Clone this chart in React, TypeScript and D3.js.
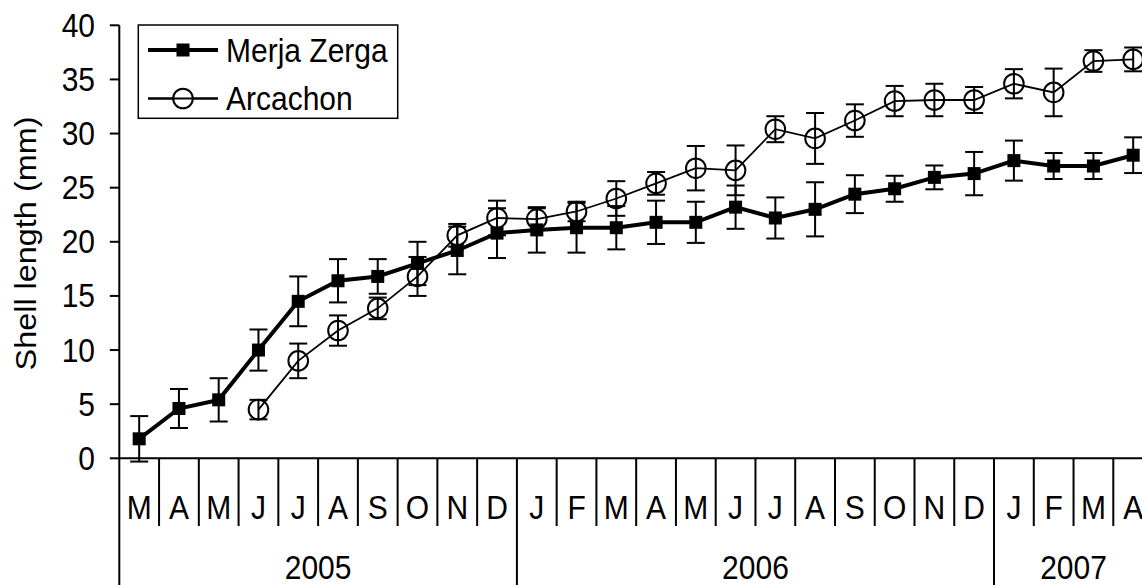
import React from "react";
import * as d3 from "d3";

const months = ["M","A","M","J","J","A","S","O","N","D","J","F","M","A","M","J","J","A","S","O","N","D","J","F","M","A"];
const years = ["2005","2006","2007"];
const yearStarts = [0, 10, 22];
const yearEnds = [10, 22, 26];

const merjaZerga = [1.8, 4.6, 5.4, 10.0, 14.5, 16.4, 16.8, 18.0, 19.2, 20.8, 21.1, 21.3, 21.3, 21.8, 21.8, 23.2, 22.2, 23.0, 24.4, 24.9, 25.95, 26.3, 27.5, 27.0, 27.0, 28.0];
const merjaZergaErr = [2.1, 1.8, 2.0, 1.9, 2.3, 2.0, 1.6, 2.0, 2.2, 2.3, 2.1, 2.3, 2.0, 2.0, 1.9, 2.0, 1.9, 2.5, 1.75, 1.2, 1.1, 2.0, 1.85, 1.2, 1.2, 1.65];

const arcachon: (number | null)[] = [null, null, null, 4.5, 9.0, 11.8, 13.85, 16.8, 20.6, 22.2, 22.1, 22.8, 24.0, 25.4, 26.8, 26.6, 30.4, 29.55, 31.2, 33.0, 33.1, 33.1, 34.6, 33.8, 36.7, 36.85];
const arcachonErr: (number | null)[] = [null, null, null, 0.9, 1.6, 1.4, 1.0, 1.8, 1.05, 1.6, 1.0, 0.9, 1.6, 1.05, 2.05, 2.3, 1.2, 2.35, 1.5, 1.4, 1.5, 1.2, 1.35, 2.2, 1.0, 1.1];

const yTicks = [0, 5, 10, 15, 20, 25, 30, 35, 40];
const seriesNames = ["Merja Zerga", "Arcachon"];

const FONT = "'Liberation Sans', Arial, Helvetica, sans-serif";
const FS = 30;
const SY = 1.08;

function T({ x, y, anchor = "start", rotate = false, children }: any) {
  return (
    <text
      transform={`translate(${x},${y}) scale(1,${SY})${rotate ? " rotate(-90)" : ""}`}
      textAnchor={anchor}
      fontSize={FS}
      fontFamily={FONT}
      fill="#000"
    >
      {children}
    </text>
  );
}

export default function App() {
  const W = 1142, H = 585;
  const x0 = 119.3, bw = 39.76;
  const idx = months.map((_, i) => i);
  const x = d3.scaleBand<number>().domain(idx).range([x0, x0 + months.length * bw]).padding(0);
  const y = d3.scaleLinear().domain([0, 40]).range([458.3, 25.3]);
  const cx = (i: number) => (x(i) as number) + x.bandwidth() / 2;
  const edge = (k: number) => x0 + k * x.bandwidth();

  const line = d3.line<number | null>()
    .defined((d) => d != null)
    .x((_, i) => cx(i))
    .y((d) => y(d as number));

  const capW = 9;
  const errBars = (vals: (number | null)[], errs: (number | null)[], key: string) =>
    vals.map((v, i) => {
      if (v == null || errs[i] == null) return null;
      const e = errs[i] as number;
      const x1 = cx(i), yt = y(v + e), yb = y(v - e);
      return (
        <g key={key + i} stroke="#000" strokeWidth={2}>
          <line x1={x1} x2={x1} y1={yt} y2={yb} />
          <line x1={x1 - capW} x2={x1 + capW} y1={yt} y2={yt} />
          <line x1={x1 - capW} x2={x1 + capW} y1={yb} y2={yb} />
        </g>
      );
    });

  const sq = 13;
  const cr = 9.8;
  const yearBoundaries = [0, ...yearEnds];

  return (
    <svg width={W} height={H} style={{ position: "absolute", left: 0, top: 0, background: "#fff" }}>
      <rect x={0} y={0} width={W} height={H} fill="#fff" />
      {/* Y axis */}
      <line x1={x0} x2={x0} y1={y(40)} y2={H + 5} stroke="#000" strokeWidth={2} />
      {yTicks.map((t) => (
        <g key={"yt" + t}>
          <line x1={x0 - 9.5} x2={x0} y1={y(t)} y2={y(t)} stroke="#000" strokeWidth={2} />
          <T x={95} y={y(t) + 11.5} anchor="end">{t}</T>
        </g>
      ))}
      <T x={35.5} y={243.5} anchor="middle" rotate>Shell length (mm)</T>

      {/* X axis */}
      <line x1={x0} x2={edge(months.length)} y1={y(0)} y2={y(0)} stroke="#000" strokeWidth={2} />
      {idx.slice(1).map((i) => {
        const isYear = yearBoundaries.includes(i);
        return (
          <line key={"xd" + i} x1={edge(i)} x2={edge(i)} y1={y(0)} y2={isYear ? H + 5 : 526}
            stroke="#000" strokeWidth={2} />
        );
      })}
      {months.map((m, i) => (
        <T key={"m" + i} x={cx(i)} y={519} anchor="middle">{m}</T>
      ))}
      {years.map((yr, j) => (
        <T key={"y" + yr} x={(edge(yearStarts[j]) + edge(yearEnds[j])) / 2} y={579} anchor="middle">{yr}</T>
      ))}

      {/* Arcachon */}
      {errBars(arcachon, arcachonErr, "ae")}
      <path d={line(arcachon) || ""} fill="none" stroke="#000" strokeWidth={1.8} />
      {arcachon.map((v, i) => v == null ? null : (
        <circle key={"ac" + i} cx={cx(i)} cy={y(v)} r={cr} fill="none" stroke="#000" strokeWidth={2} />
      ))}

      {/* Merja Zerga */}
      {errBars(merjaZerga, merjaZergaErr, "me")}
      <path d={line(merjaZerga) || ""} fill="none" stroke="#000" strokeWidth={4} />
      {merjaZerga.map((v, i) => (
        <rect key={"ms" + i} x={cx(i) - sq / 2} y={y(v) - sq / 2} width={sq} height={sq} fill="#000" />
      ))}

      {/* Legend */}
      <rect x={138.3} y={25} width={259.4} height={93.3} fill="#fff" stroke="#000" strokeWidth={1.5} />
      <line x1={148} x2={218} y1={50} y2={50} stroke="#000" strokeWidth={4} />
      <rect x={183 - sq / 2} y={50 - sq / 2} width={sq} height={sq} fill="#000" />
      <T x={226} y={50 + 11.5}>{seriesNames[0]}</T>
      <line x1={148} x2={218} y1={98.5} y2={98.5} stroke="#000" strokeWidth={1.8} />
      <circle cx={183} cy={98.5} r={cr} fill="#fff" stroke="#000" strokeWidth={2} />
      <line x1={148} x2={218} y1={98.5} y2={98.5} stroke="#000" strokeWidth={1.8} />
      <T x={226} y={98.5 + 11.5}>{seriesNames[1]}</T>
    </svg>
  );
}
